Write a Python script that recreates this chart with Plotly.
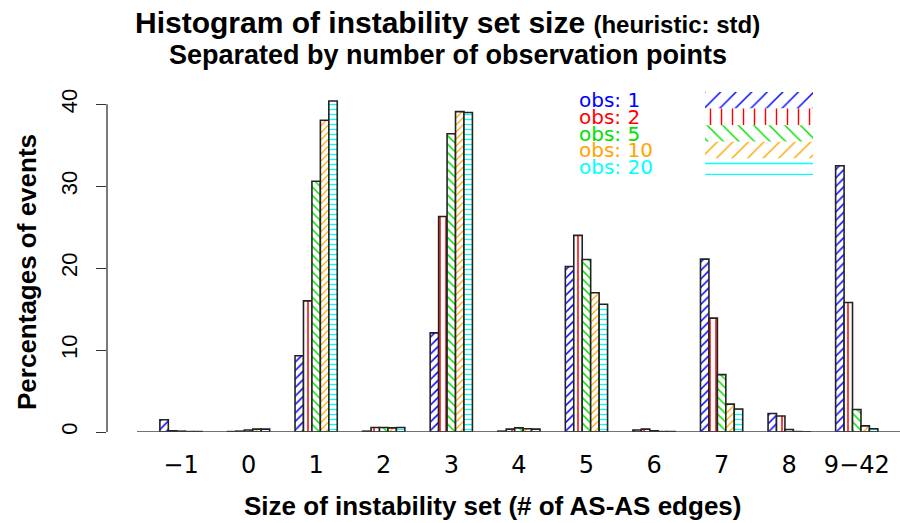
import plotly.graph_objects as go

# ---------------- data ----------------
categories = ["\u22121", "0", "1", "2", "3", "4", "5", "6", "7", "8", "9\u221242"]
series_names = ["obs: 1", "obs: 2", "obs: 5", "obs: 10", "obs: 20"]
obs1 = [1.5, 0.05, 9.3, 0.1, 12.1, 0.1, 20.2, 0.25, 21.1, 2.25, 32.5]
obs2 = [0.15, 0.1, 16.0, 0.55, 26.3, 0.35, 24.0, 0.35, 13.9, 1.95, 15.8]
obs5 = [0.1, 0.25, 30.6, 0.55, 36.4, 0.5, 21.05, 0.15, 7.0, 0.3, 2.75]
obs10 = [0.05, 0.35, 38.05, 0.5, 39.1, 0.4, 17.0, 0.05, 3.4, 0.05, 0.75]
obs20 = [0.05, 0.35, 40.4, 0.55, 39.0, 0.35, 15.6, 0.05, 2.8, 0.02, 0.4]
y_ticks = [0, 10, 20, 30, 40]

# ---------------- styles ----------------
colors = ["#0000ff", "#ff0000", "#00e000", "#ffa500", "#00ffff"]
shapes = ["/", "|", "\\", "/", "-"]
sizes = [6, 6, 6, 5, 5]
series = [obs1, obs2, obs5, obs10, obs20]

fig = go.Figure()
for name, vals, col, shp, sz in zip(series_names, series, colors, shapes, sizes):
    fig.add_trace(go.Bar(
        x=categories, y=vals, name=name, showlegend=False,
        marker=dict(color="white",
                    line=dict(color="#222222", width=1.6),
                    pattern=dict(shape=shp, fgcolor=col, bgcolor="white",
                                 fgopacity=1, size=sz, solidity=0.25)),
        hoverinfo="x+y+name",
    ))

# legend swatches on their own small axes
fig.add_trace(go.Bar(
    y=series_names, x=[1] * len(series_names), orientation="h",
    xaxis="x2", yaxis="y2", width=1, showlegend=False, hoverinfo="skip",
    marker=dict(color="white", line=dict(width=0),
                pattern=dict(shape=shapes, fgcolor=colors, bgcolor="white",
                             fgopacity=1, size=11, solidity=0.13)),
))

L, R, T, B = 107, 0, 92, 91
W, H = 900, 523
plot_w = W - L - R
plot_h = H - T - B

def px_x(p):
    return (p - L) / plot_w

def px_y(p):
    return (H - B - p) / plot_h

fig.update_layout(
    width=W, height=H,
    margin=dict(l=L, r=R, t=T, b=B, pad=0, autoexpand=False),
    paper_bgcolor="white", plot_bgcolor="white",
    barmode="group", bargap=0.375, bargroupgap=0,
    showlegend=False,
    font=dict(family="Liberation Sans, Arial, sans-serif", color="black"),
    xaxis=dict(type="category", range=[-1.095, 10.64], showline=False,
               showgrid=False, zeroline=False, ticks="", automargin=False,
               tickfont=dict(family="DejaVu Sans", size=24, color="black"),
               ticklabelstandoff=16),
    yaxis=dict(range=[0, 41.5], showline=False, showgrid=False, zeroline=False,
               tickvals=y_ticks, ticks="outside", ticklen=10, tickwidth=1.3,
               tickcolor="#333333", tickangle=-90, automargin=False,
               tickfont=dict(family="Liberation Sans", size=22, color="black"),
               ticklabelstandoff=10),
    xaxis2=dict(domain=[px_x(705), px_x(813)], range=[0, 1], visible=False,
                anchor="y2", fixedrange=True),
    yaxis2=dict(domain=[px_y(175), 1.0], type="category",
                categoryarray=series_names, range=[4.5, -0.5],
                visible=False, anchor="x2", fixedrange=True),
    shapes=[
        dict(type="line", xref="paper", yref="y", x0=px_x(137), x1=1,
             y0=0, y1=0, line=dict(color="#444444", width=1.5)),
        dict(type="line", xref="paper", yref="y", x0=0, x1=0,
             y0=y_ticks[0], y1=y_ticks[-1], line=dict(color="#333333", width=1.3)),
    ],
)

annotations = [
    dict(text="<b>Histogram of instability set size</b> <span style='font-size:24px'><b>(heuristic: std)</b></span>",
         xref="paper", yref="paper", x=px_x(447), y=px_y(22), showarrow=False,
         xanchor="center", yanchor="middle", font=dict(size=30)),
    dict(text="<b>Separated by number of observation points</b>",
         xref="paper", yref="paper", x=px_x(448), y=px_y(55), showarrow=False,
         xanchor="center", yanchor="middle", font=dict(size=27)),
    dict(text="<b>Size of instability set (# of AS-AS edges)</b>",
         xref="paper", yref="paper", x=px_x(492), y=px_y(506), showarrow=False,
         xanchor="center", yanchor="middle", font=dict(size=26)),
    dict(text="<b>Percentages of events</b>", textangle=-90,
         xref="paper", yref="paper", x=px_x(27), y=px_y(272), showarrow=False,
         xanchor="center", yanchor="middle", font=dict(size=26)),
]
for name, col in zip(series_names, colors):
    annotations.append(dict(text=name, xref="paper", yref="y2", x=px_x(577), y=name,
                            showarrow=False, xanchor="left", yanchor="middle",
                            font=dict(family="DejaVu Sans", size=20, color=col)))
fig.update_layout(annotations=annotations)

fig.write_html("out.html",
               config={"displayModeBar": False},
               post_script="document.body.style.margin='0px';document.body.style.overflow='hidden';")
